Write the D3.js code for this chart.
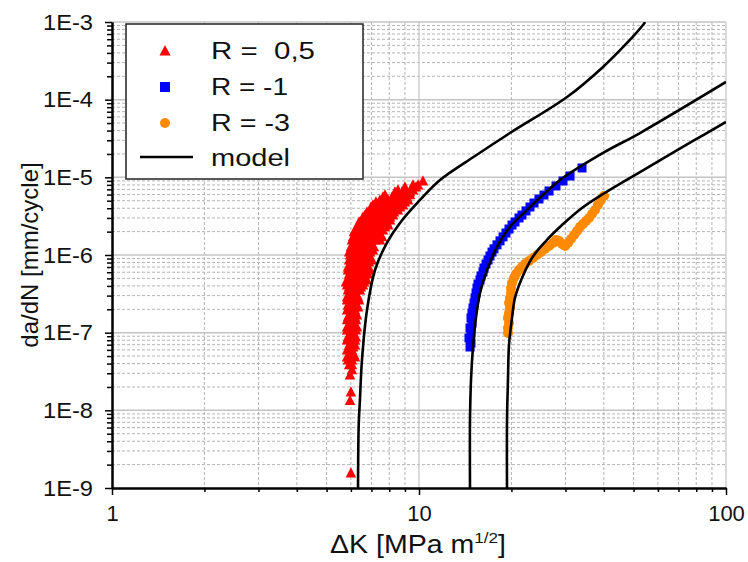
<!DOCTYPE html>
<html><head><meta charset="utf-8">
<script src="https://cdn.jsdelivr.net/npm/d3@7"></script>
<style>
body{margin:0;background:#fff;}
svg{display:block;font-family:"Liberation Sans",Arial,Helvetica,sans-serif;}
</style></head><body>
<svg id="c" width="748" height="562"></svg>
<script>
// ---------- data (ΔK [MPa m^1/2], da/dN [mm/cycle]) ----------
const xDomain = [1, 100];
const yDomain = [1e-9, 1e-3];
const xTickLabels = ["1", "10", "100"];
const yTickLabels = ["1E-9", "1E-8", "1E-7", "1E-6", "1E-5", "1E-4", "1E-3"];
const legendLabels = ["R =  0,5", "R = -1", "R = -3", "model"];

const dataR05 = [
  [6.00,1.56e-9],[6.00,1.72e-8],[5.96,1.33e-8],[5.96,2.85e-8],[6.05,3.31e-8],
  [5.92,3.84e-8],[6.05,3.84e-8],
  [5.87,4.45e-8],[6.05,4.45e-8],[5.83,4.86e-8],[6.00,4.86e-8],[6.19,4.86e-8],
  [5.96,5.16e-8],[6.14,5.16e-8],[5.83,5.98e-8],[6.05,5.98e-8],[5.96,6.54e-8],[6.10,6.54e-8],
  [5.92,6.93e-8],[6.19,6.93e-8],[5.83,8.05e-8],[6.00,8.05e-8],[6.19,8.05e-8],
  [5.87,8.80e-8],[6.05,8.80e-8],[6.23,8.80e-8],
  [5.92,9.33e-8],[6.10,9.33e-8],[5.83,1.08e-7],[6.00,1.08e-7],[6.23,1.08e-7],
  [5.83,1.18e-7],[5.96,1.18e-7],[6.10,1.18e-7],[6.28,1.18e-7],
  [5.92,1.26e-7],[6.14,1.26e-7],[5.83,1.46e-7],[6.00,1.46e-7],[6.23,1.46e-7],
  [5.87,1.59e-7],[6.05,1.59e-7],[6.19,1.59e-7],
  [5.92,1.69e-7],[6.10,1.69e-7],[6.28,1.69e-7],[5.83,1.96e-7],[6.00,1.96e-7],[6.19,1.96e-7],
  [5.96,2.14e-7],[6.14,2.14e-7],[6.33,2.14e-7],
  [5.87,2.27e-7],[6.10,2.27e-7],[6.28,2.27e-7],[5.83,2.63e-7],[5.96,2.63e-7],[6.19,2.63e-7],[6.38,2.63e-7],
  [5.83,2.88e-7],[6.00,2.88e-7],[6.19,2.88e-7],[6.33,2.88e-7],
  [5.92,3.05e-7],[6.10,3.05e-7],[6.28,3.05e-7],[5.87,3.54e-7],[6.00,3.54e-7],[6.19,3.54e-7],[6.42,3.54e-7],
  [5.92,3.87e-7],[6.10,3.87e-7],[6.28,3.87e-7],[6.47,3.87e-7],
  [5.83,4.11e-7],[5.96,4.11e-7],[6.14,4.11e-7],[6.33,4.11e-7],[6.57,4.11e-7],
  [5.78,4.49e-7],[5.96,4.49e-7],[6.14,4.49e-7],[6.38,4.49e-7],[6.62,4.49e-7],
  [5.87,4.77e-7],[6.05,4.77e-7],[6.23,4.77e-7],[6.52,4.77e-7],[6.77,4.77e-7],
  [5.96,5.21e-7],[6.33,5.21e-7],[6.67,5.21e-7],
  [5.92,5.69e-7],[6.14,5.69e-7],[6.42,5.69e-7],[6.62,5.69e-7],[6.82,5.69e-7],
  [5.87,6.41e-7],[6.05,6.41e-7],[6.23,6.41e-7],[6.42,6.41e-7],[6.72,6.41e-7],[6.93,6.41e-7],
  [5.87,7.01e-7],[6.05,7.01e-7],[6.28,7.01e-7],[6.47,7.01e-7],[6.82,7.01e-7],
  [5.96,7.43e-7],[6.19,7.43e-7],[6.57,7.43e-7],
  [6.00,8.13e-7],[6.23,8.13e-7],[6.52,8.13e-7],[6.87,8.13e-7],
  [5.92,8.62e-7],[6.10,8.62e-7],[6.33,8.62e-7],[6.67,8.62e-7],[7.03,8.62e-7],
  [5.96,1.0e-6],[6.23,1.0e-6],[6.52,1.0e-6],[6.82,1.0e-6],
  [5.92,1.09e-6],[6.10,1.09e-6],[6.33,1.09e-6],[6.62,1.09e-6],[6.93,1.09e-6],
  [6.00,1.16e-6],[6.19,1.16e-6],[6.42,1.16e-6],[6.72,1.16e-6],[7.08,1.16e-6],
  [6.00,1.27e-6],[6.19,1.27e-6],[6.47,1.27e-6],[6.77,1.27e-6],[7.13,1.27e-6],
  [6.10,1.35e-6],[6.33,1.35e-6],[6.67,1.35e-6],[6.93,1.35e-6],
  [6.05,1.56e-6],[6.23,1.56e-6],[6.52,1.56e-6],[6.82,1.56e-6],[7.19,1.56e-6],[7.46,1.56e-6],
  [6.10,1.71e-6],[6.33,1.71e-6],[6.62,1.71e-6],[7.08,1.71e-6],[7.58,1.71e-6],
  [6.19,1.81e-6],[6.42,1.81e-6],[6.93,1.81e-6],[7.35,1.81e-6],
  [6.14,1.98e-6],[6.38,1.98e-6],[6.87,1.98e-6],[7.35,1.98e-6],
  [6.23,2.10e-6],[6.52,2.10e-6],[6.72,2.10e-6],[7.08,2.10e-6],[7.63,2.10e-6],
  [6.28,2.30e-6],[6.52,2.30e-6],[6.87,2.30e-6],[7.24,2.30e-6],[7.75,2.30e-6],
  [6.33,2.43e-6],[6.67,2.43e-6],[7.03,2.43e-6],[7.46,2.43e-6],[7.93,2.43e-6],
  [6.38,2.66e-6],[6.72,2.66e-6],[7.03,2.66e-6],[7.41,2.66e-6],[7.86,2.66e-6],
  [6.52,2.82e-6],[6.82,2.82e-6],[7.19,2.82e-6],[7.63,2.82e-6],[8.05,2.82e-6],
  [6.57,3.08e-6],[6.87,3.08e-6],[7.24,3.08e-6],[7.58,3.08e-6],[8.05,3.08e-6],
  [6.67,3.27e-6],[7.03,3.27e-6],[7.35,3.27e-6],[7.75,3.27e-6],[8.23,3.27e-6],
  [6.77,3.58e-6],[7.08,3.58e-6],[7.46,3.58e-6],[7.86,3.58e-6],[8.29,3.58e-6],
  [6.93,3.79e-6],[7.19,3.79e-6],[7.63,3.79e-6],[8.05,3.79e-6],[8.54,3.79e-6],
  [6.98,4.15e-6],[7.30,4.15e-6],[7.69,4.15e-6],[8.17,4.15e-6],[8.67,4.15e-6],
  [7.08,4.40e-6],[7.35,4.40e-6],[7.93,4.40e-6],[8.35,4.40e-6],[8.87,4.40e-6],
  [7.24,4.81e-6],[7.69,4.81e-6],[8.11,4.81e-6],[8.54,4.81e-6],[9.00,4.81e-6],
  [7.46,5.11e-6],[7.93,5.11e-6],[8.23,5.11e-6],[8.67,5.11e-6],[9.21,5.11e-6],
  [7.63,5.58e-6],[8.17,5.58e-6],[8.67,5.58e-6],[9.14,5.58e-6],
  [7.75,5.93e-6],[8.35,5.93e-6],[8.87,5.93e-6],[9.35,5.93e-6],
  [8.35,6.48e-6],[8.80,6.48e-6],[9.35,6.48e-6],
  [8.54,6.87e-6],[9.00,6.87e-6],[9.56,6.87e-6],
  [9.00,7.51e-6],[9.49,7.51e-6],[9.78,7.51e-6],
  [9.56,7.96e-6],[9.93,7.96e-6],[10.30,8.97e-6]
];

const dataRm1 = [
  [14.66,6.54e-8],[14.77,7.36e-8],[14.55,8.54e-8],[14.77,9.91e-8],[14.66,1.15e-7],[14.88,1.33e-7],
  [14.77,1.55e-7],[14.88,1.79e-7],[14.99,2.08e-7],[15.11,2.41e-7],[15.22,2.80e-7],[15.34,3.24e-7],
  [15.45,3.76e-7],[15.57,4.23e-7],[15.80,4.77e-7],[15.92,5.37e-7],[16.16,6.04e-7],[16.28,6.80e-7],
  [16.53,7.66e-7],[16.78,8.62e-7],[17.03,9.71e-7],[17.29,1.09e-6],[17.55,1.20e-6],[17.95,1.35e-6],
  [18.36,1.52e-6],[18.78,1.71e-6],[19.20,1.92e-6],[19.64,2.16e-6],[20.09,2.43e-6],[20.55,2.66e-6],
  [21.17,3.00e-6],[21.65,3.27e-6],[22.31,3.69e-6],[22.99,4.15e-6],[23.69,4.67e-6],[24.59,5.26e-6],
  [25.53,5.92e-6],[26.52,6.67e-6],[27.94,7.74e-6],[29.45,8.97e-6],[31.04,1.04e-5],[33.96,1.32e-5]
];

const dataRm3 = [
  [19.49,9.9e-8],[19.49,1.15e-7],[19.64,1.33e-7],[19.49,1.55e-7],[19.64,1.79e-7],[19.79,2.08e-7],
  [19.64,2.41e-7],[19.79,2.80e-7],[19.94,3.24e-7],[19.94,3.76e-7],[20.09,4.36e-7],[20.39,5.06e-7],
  [20.70,5.69e-7],[21.17,6.41e-7],[21.65,7.01e-7],[22.14,7.66e-7],[22.82,8.37e-7],[23.52,9.16e-7],
  [24.23,1.0e-6],[24.97,1.09e-6],[25.73,1.20e-6],[26.52,1.31e-6],[27.32,1.43e-6],[27.94,1.56e-6],
  [28.58,1.52e-6],[29.23,1.39e-6],[29.90,1.31e-6],[30.58,1.43e-6],[31.27,1.61e-6],[31.99,1.81e-6],
  [32.72,2.04e-6],[33.45,2.30e-6],[34.21,2.51e-6],[34.99,2.74e-6],[35.79,3.00e-6],[36.60,3.37e-6],
  [37.43,3.79e-6],[38.28,4.40e-6],[39.15,5.11e-6],[40.05,5.75e-6]
];

const modelR05 = [
  [6.33,1e-9],[6.36,6.1e-9],[6.42,1.36e-8],[6.52,4.45e-8],[6.77,1.96e-7],[7.19,6.41e-7],
  [7.86,1.43e-6],[8.67,2.58e-6],[10.08,5.11e-6],[11.71,9.24e-6],[15.22,1.88e-5],[19.79,3.72e-5],
  [30.35,1.08e-4],[39.76,2.64e-4],[47.6,5.37e-4],[53.65,9.15e-4],[54.5,1.0e-3]
];
const modelRm1 = [
  [14.66,1e-9],[14.66,7.5e-9],[14.77,2.46e-8],[14.99,6.5e-8],[15.3,1.46e-7],[15.8,3.24e-7],
  [16.66,6.41e-7],[17.95,1.27e-6],[19.79,2.30e-6],[22.48,3.79e-6],[25.73,6.28e-6],[28.80,9.24e-6],
  [39.76,2.06e-5],[52.46,3.72e-5],[100,1.69e-4]
];
const modelRm3 = [
  [19.35,1e-9],[19.35,7.5e-9],[19.49,2.46e-8],[19.64,6.93e-8],[20.09,1.55e-7],[20.54,2.80e-7],
  [21.65,5.06e-7],[23.34,9.16e-7],[25.73,1.47e-6],[29.23,2.43e-6],[33.96,4.03e-6],[39.76,6.1e-6],
  [52.46,1.17e-5],[78.1,2.94e-5],[100,5.16e-5]
];

const colors = {r05: "#ff0000", rm1: "#0000ff", rm3: "#ff8a00", model: "#000000"};

// ---------- chart ----------
const svg = d3.select("#c");
const x = d3.scaleLog().domain(xDomain).range([112, 726]);
const y = d3.scaleLog().domain(yDomain).range([488, 22]);
const isMajor = v => Math.abs(Math.log10(v) - Math.round(Math.log10(v))) < 1e-9;

const xt = x.ticks(), yt = y.ticks();
const xMaj = xt.filter(isMajor), xMin = xt.filter(v => !isMajor(v));
const yMaj = yt.filter(isMajor), yMin = yt.filter(v => !isMajor(v));

svg.append("defs").append("clipPath").attr("id", "plot")
  .append("rect").attr("x", 112).attr("y", 22).attr("width", 614).attr("height", 466);

const grid = svg.append("g");
grid.selectAll(".hmin").data(yMin).join("line")
  .attr("x1", 112).attr("x2", 726).attr("y1", d => y(d)).attr("y2", d => y(d))
  .attr("stroke", "#b4b4b4").attr("stroke-width", 1).attr("stroke-dasharray", "3,2");
grid.selectAll(".vmin").data(xMin).join("line")
  .attr("y1", 22).attr("y2", 488).attr("x1", d => x(d)).attr("x2", d => x(d))
  .attr("stroke", "#b4b4b4").attr("stroke-width", 1).attr("stroke-dasharray", "3,2");
grid.selectAll(".hmaj").data(yMaj.slice(1)).join("line")
  .attr("x1", 112).attr("x2", 726).attr("y1", d => y(d)).attr("y2", d => y(d))
  .attr("stroke", "#c4c4c4").attr("stroke-width", 1.5);
grid.selectAll(".vmaj").data(xMaj.slice(1)).join("line")
  .attr("y1", 22).attr("y2", 488).attr("x1", d => x(d)).attr("x2", d => x(d))
  .attr("stroke", "#c4c4c4").attr("stroke-width", 1.2);

// data markers
const pts = svg.append("g").attr("clip-path", "url(#plot)");
const tri = s => `M0,${-s*0.55}L${s/2},${s*0.42}L${-s/2},${s*0.42}Z`;
pts.selectAll(".t").data(dataR05).join("path")
  .attr("d", tri(10.5)).attr("transform", d => `translate(${x(d[0])},${y(d[1])})`)
  .attr("fill", colors.r05);
pts.selectAll(".s").data(dataRm1).join("rect")
  .attr("x", d => x(d[0]) - 4.5).attr("y", d => y(d[1]) - 4.5).attr("width", 9).attr("height", 9)
  .attr("fill", colors.rm1);
pts.selectAll(".c").data(dataRm3).join("circle")
  .attr("cx", d => x(d[0])).attr("cy", d => y(d[1])).attr("r", 5)
  .attr("fill", colors.rm3);

// model curves
const line = d3.line().x(d => x(d[0])).y(d => y(d[1])).curve(d3.curveCatmullRom.alpha(0.5));
const curves = svg.append("g").attr("clip-path", "url(#plot)");
[modelR05, modelRm1, modelRm3].forEach(c => {
  curves.append("path").attr("d", line(c)).attr("fill", "none")
    .attr("stroke", colors.model).attr("stroke-width", 2.6);
});

// axes
const gx = svg.append("g").attr("transform", "translate(0,488)");
gx.call(d3.axisBottom(x).tickValues(xMin).tickSize(4).tickFormat("").tickSizeOuter(0));
gx.append("g").call(d3.axisBottom(x).tickValues(xMaj).tickSize(7).tickPadding(10)
  .tickFormat((d, i) => xTickLabels[i]).tickSizeOuter(0));
const gy = svg.append("g").attr("transform", "translate(112,0)");
gy.call(d3.axisLeft(y).tickValues(yMin).tickSize(5).tickFormat("").tickSizeOuter(0));
const gyMaj = gy.append("g").call(d3.axisLeft(y).tickValues(yMaj).tickSize(7).tickPadding(12)
  .tickFormat((d, i) => yTickLabels[i]).tickSizeOuter(0));
svg.selectAll(".domain").attr("stroke", "#000").attr("stroke-width", 2);
svg.selectAll(".tick line").attr("stroke", "#000").attr("stroke-width", 1.5);
svg.selectAll(".tick text").attr("font-size", 22).attr("fill", "#111")
  .attr("font-family", '"Liberation Sans",Arial,sans-serif');
gyMaj.selectAll(".tick text").attr("textLength", 50).attr("lengthAdjust", "spacingAndGlyphs");

// axis titles
const xt_ = svg.append("text").attr("x", 418).attr("y", 553).attr("text-anchor", "middle")
  .attr("font-size", 25).attr("fill", "#111");
xt_.append("tspan").text("\u0394K [MPa m");
xt_.append("tspan").attr("font-size", 15).attr("dy", -10).text("1/2");
xt_.append("tspan").attr("dy", 10).text("]");
xt_.attr("textLength", 176).attr("lengthAdjust", "spacingAndGlyphs");

svg.append("text").attr("transform", "translate(38,255) rotate(-90)")
  .attr("text-anchor", "middle").attr("font-size", 24).attr("fill", "#111")
  .text("da/dN [mm/cycle]");

// legend
const lg = svg.append("g");
lg.append("rect").attr("x", 126).attr("y", 24).attr("width", 237).attr("height", 155)
  .attr("fill", "#fff").attr("stroke", "#222").attr("stroke-width", 1.5);
const rowY = [51, 87, 123, 157];
const base = [59, 95, 131, 166];
const widths = [104, 77, 79, 79];
lg.append("path").attr("d", tri(11)).attr("transform", `translate(165,${rowY[0]})`).attr("fill", colors.r05);
lg.append("rect").attr("x", 160).attr("y", rowY[1] - 5).attr("width", 10).attr("height", 10).attr("fill", colors.rm1);
lg.append("circle").attr("cx", 165).attr("cy", rowY[2]).attr("r", 5).attr("fill", colors.rm3);
lg.append("line").attr("x1", 140).attr("x2", 193).attr("y1", rowY[3]).attr("y2", rowY[3])
  .attr("stroke", colors.model).attr("stroke-width", 2.6);
legendLabels.forEach((t, i) => {
  lg.append("text").attr("x", 211).attr("y", base[i]).attr("font-size", 23).attr("fill", "#111")
    .attr("xml:space", "preserve").style("white-space", "pre")
    .attr("textLength", widths[i]).attr("lengthAdjust", "spacingAndGlyphs").text(t);
});
</script>
</body></html>
